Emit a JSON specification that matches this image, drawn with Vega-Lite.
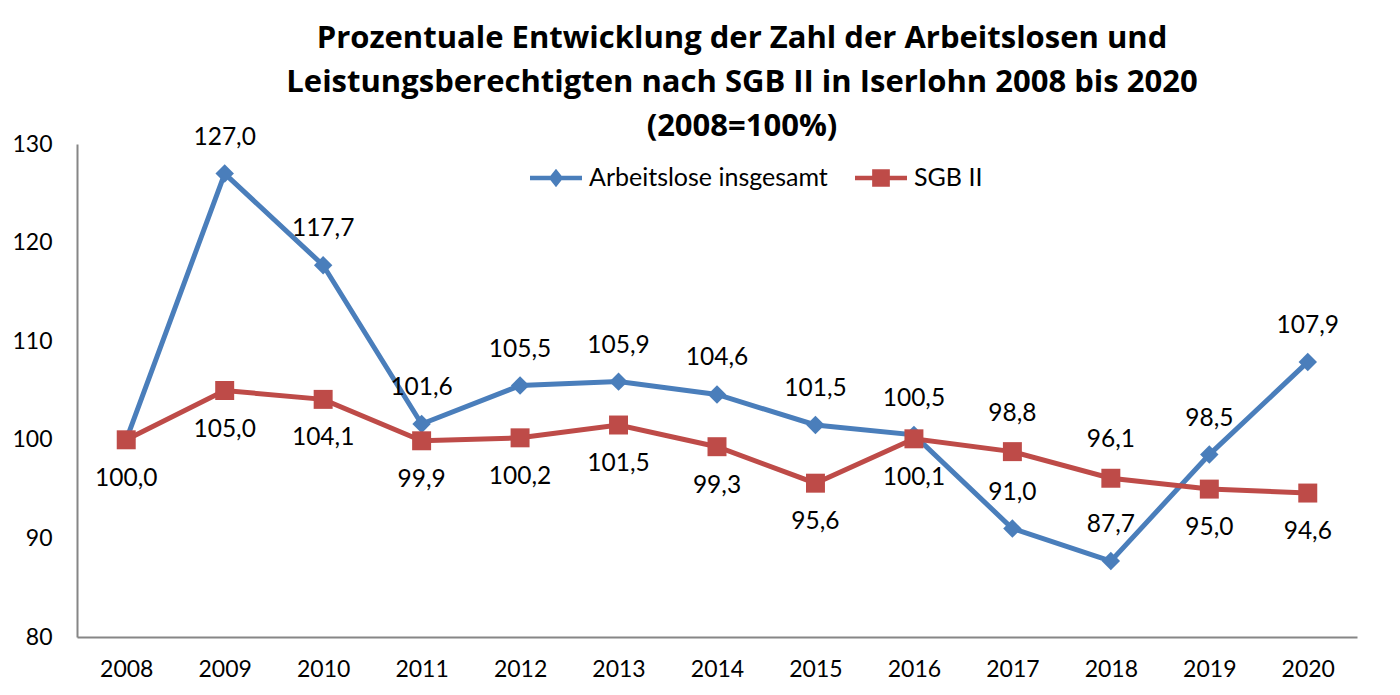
{
  "$schema": "https://vega.github.io/schema/vega-lite/v6.json",
  "autosize": "none",
  "width": 1280,
  "height": 493,
  "padding": {"left": 77, "top": 144, "right": 43, "bottom": 58},
  "background": "white",
  "config": {
    "view": {"stroke": null},
    "font": "Lato",
    "locale": {"number": {"decimal": ",", "thousands": ".", "grouping": [3], "currency": ["", " €"]}}
  },
  "title": {
    "text": ["Prozentuale Entwicklung der Zahl der Arbeitslosen und", "Leistungsberechtigten nach SGB II in Iserlohn 2008 bis 2020", "(2008=100%)"],
    "font": "Open Sans",
    "fontSize": 31,
    "fontWeight": "bold",
    "color": "black",
    "lineHeight": 44,
    "anchor": "middle",
    "frame": "group",
    "dx": 25,
    "offset": -18
  },
  "data": {
    "values": [
      {"year": "2008", "series": "Arbeitslose insgesamt", "value": 100.0},
      {"year": "2009", "series": "Arbeitslose insgesamt", "value": 127.0},
      {"year": "2010", "series": "Arbeitslose insgesamt", "value": 117.7},
      {"year": "2011", "series": "Arbeitslose insgesamt", "value": 101.6},
      {"year": "2012", "series": "Arbeitslose insgesamt", "value": 105.5},
      {"year": "2013", "series": "Arbeitslose insgesamt", "value": 105.9},
      {"year": "2014", "series": "Arbeitslose insgesamt", "value": 104.6},
      {"year": "2015", "series": "Arbeitslose insgesamt", "value": 101.5},
      {"year": "2016", "series": "Arbeitslose insgesamt", "value": 100.5},
      {"year": "2017", "series": "Arbeitslose insgesamt", "value": 91.0},
      {"year": "2018", "series": "Arbeitslose insgesamt", "value": 87.7},
      {"year": "2019", "series": "Arbeitslose insgesamt", "value": 98.5},
      {"year": "2020", "series": "Arbeitslose insgesamt", "value": 107.9},
      {"year": "2008", "series": "SGB II", "value": 100.0},
      {"year": "2009", "series": "SGB II", "value": 105.0},
      {"year": "2010", "series": "SGB II", "value": 104.1},
      {"year": "2011", "series": "SGB II", "value": 99.9},
      {"year": "2012", "series": "SGB II", "value": 100.2},
      {"year": "2013", "series": "SGB II", "value": 101.5},
      {"year": "2014", "series": "SGB II", "value": 99.3},
      {"year": "2015", "series": "SGB II", "value": 95.6},
      {"year": "2016", "series": "SGB II", "value": 100.1},
      {"year": "2017", "series": "SGB II", "value": 98.8},
      {"year": "2018", "series": "SGB II", "value": 96.1},
      {"year": "2019", "series": "SGB II", "value": 95.0},
      {"year": "2020", "series": "SGB II", "value": 94.6}
    ]
  },
  "encoding": {
    "x": {
      "field": "year", "type": "ordinal",
      "scale": {"type": "point", "padding": 0.5},
      "axis": {"title": null, "labelAngle": 0, "ticks": false, "labelPadding": 21, "labelFontSize": 23, "labelFont": "Lato", "labelColor": "black", "domainColor": "#868686", "domainWidth": 2, "grid": false}
    },
    "y": {
      "field": "value", "type": "quantitative",
      "scale": {"domain": [80, 130], "nice": false, "zero": false},
      "axis": {"title": null, "values": [80, 90, 100, 110, 120, 130], "ticks": false, "labelPadding": 25, "labelFontSize": 23, "labelFont": "Lato", "labelColor": "black", "domainColor": "#868686", "domainWidth": 2, "grid": false}
    }
  },
  "layer": [
    {
      "mark": {"type": "line", "strokeWidth": 5},
      "encoding": {
        "color": {
          "field": "series", "type": "nominal",
          "scale": {"domain": ["Arbeitslose insgesamt", "SGB II"], "range": ["#4A7EBB", "#BE4B48"]},
          "legend": {
            "orient": "none", "legendX": 453, "legendY": 8, "direction": "horizontal", "title": null,
            "labelFontSize": 25, "labelFont": "Lato", "labelColor": "black", "labelLimit": 0,
            "symbolSize": 2704, "symbolStrokeWidth": 0, "symbolType": "M-1,-0.09H1V0.09H-1Z", "labelOffset": 7, "columnPadding": 27,
            "encode": {"symbols": {"update": {
              "shape": {"signal": "datum.value === 'SGB II' ? 'M-1,-0.09H1V0.09H-1Z M-0.34,-0.34H0.34V0.34H-0.34Z' : 'M-1,-0.09H1V0.09H-1Z M0,-0.36L0.28,0L0,0.36L-0.28,0Z'"},
              "fill": {"signal": "scale('color', datum.value)"},
              "opacity": {"value": 1}
            }}}
          }
        }
      }
    },
    {
      "transform": [{"filter": "datum.series === 'Arbeitslose insgesamt'"}],
      "mark": {"type": "point", "filled": true, "opacity": 1, "shape": "diamond", "size": 340, "color": "#4A7EBB"}
    },
    {
      "transform": [{"filter": "datum.series === 'SGB II'"}],
      "mark": {"type": "point", "filled": true, "opacity": 1, "shape": "square", "size": 360, "color": "#BE4B48"}
    },
    {
      "transform": [{"filter": "datum.series === 'Arbeitslose insgesamt' && datum.year !== '2008'"}],
      "mark": {"type": "text", "dy": -36, "fontSize": 24.5, "font": "Lato", "color": "black", "baseline": "middle"},
      "encoding": {"text": {"field": "value", "type": "quantitative", "format": ".1f"}}
    },
    {
      "transform": [{"filter": "datum.series === 'SGB II' && datum.year !== '2017' && datum.year !== '2018'"}],
      "mark": {"type": "text", "dy": 39, "fontSize": 24.5, "font": "Lato", "color": "black", "baseline": "middle"},
      "encoding": {"text": {"field": "value", "type": "quantitative", "format": ".1f"}}
    },
    {
      "transform": [{"filter": "datum.series === 'SGB II' && (datum.year === '2017' || datum.year === '2018')"}],
      "mark": {"type": "text", "dy": -38, "fontSize": 24.5, "font": "Lato", "color": "black", "baseline": "middle"},
      "encoding": {"text": {"field": "value", "type": "quantitative", "format": ".1f"}}
    }
  ]
}
